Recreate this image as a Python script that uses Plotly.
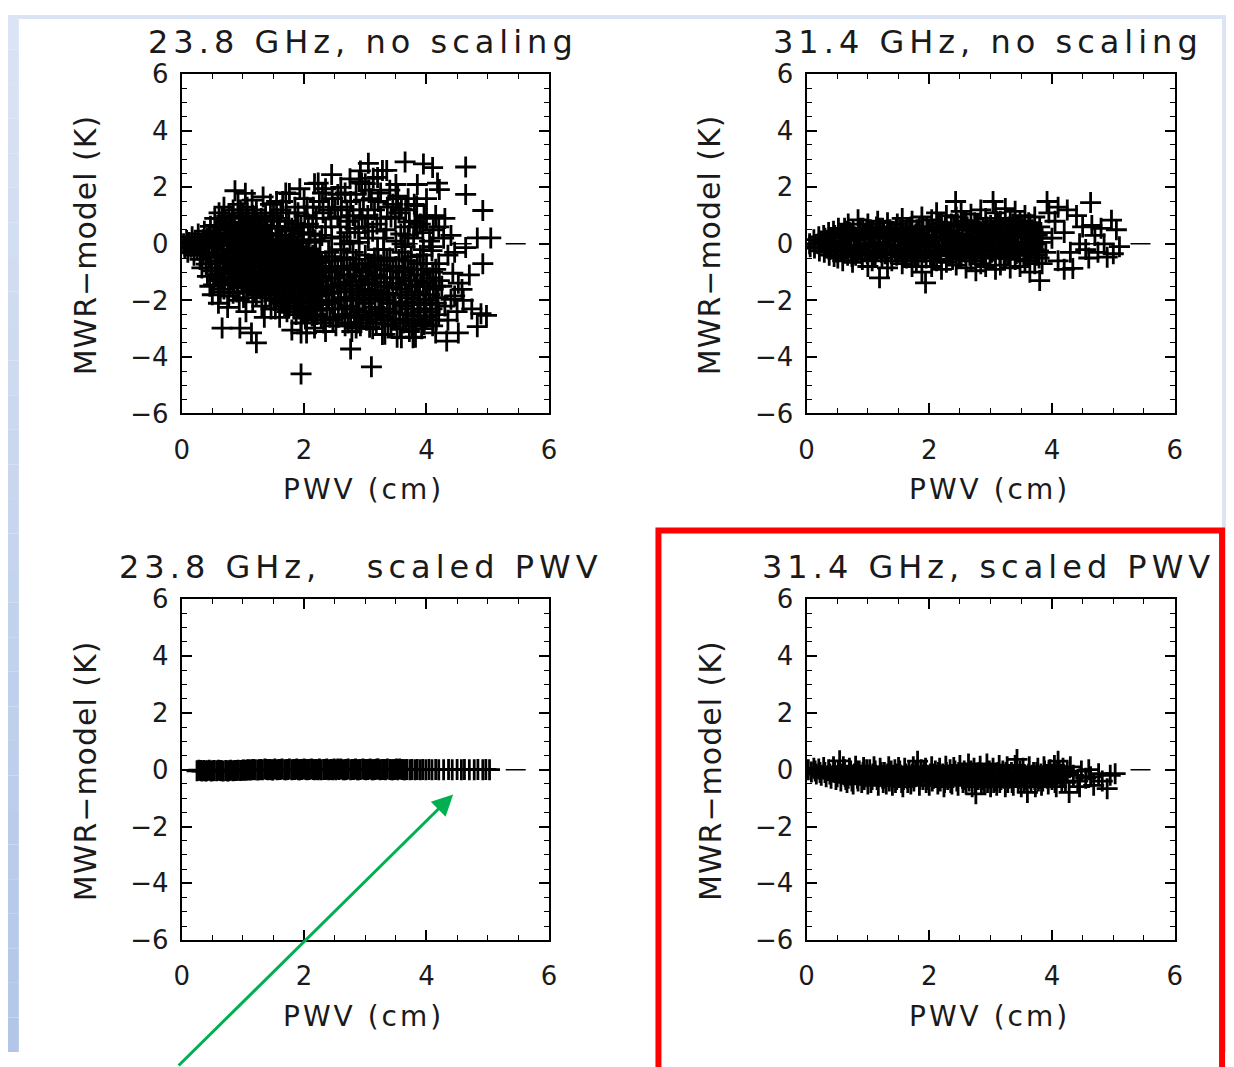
import plotly.graph_objects as go

W, H = 1234, 1067

# ---------------- data ----------------
titles = ["23.8 GHz, no scaling", "31.4 GHz, no scaling",
          "23.8 GHz,\u00a0\u00a0 scaled PWV", "31.4 GHz, scaled PWV"]
x_title = "PWV (cm)"
y_title = "MWR\u2212model (K)"
x_range = [0, 6]
y_range = [-6, 6]
zero_x = [0, 6]
zero_y = [0, 0]

tl_points = [
    (0.03,0.0),(0.05,-0.15),(0.08,0.12),(0.1,-0.3),(0.12,0.05),(0.15,-0.12),(0.17,0.25),(0.2,-0.4),(0.22,0.1),
    (0.25,-0.22),(0.27,0.35),(0.3,-0.55),(0.32,0.02),(0.35,-0.3),(0.37,0.45),(0.4,-0.72),(0.42,0.2),(0.45,-0.45),
    (0.47,0.62),(0.49,-0.95),(0.5,0.0),(0.44,-0.05),(0.38,-0.15),(0.28,-0.05),(0.33,-0.85),(0.42,-1.15),(0.46,-1.5),
    (0.54,0.9),(0.56,0.4),(0.53,-0.1),(0.57,-0.6),(0.55,-1.1),(0.52,-1.45),
    (0.61,1.1),(0.63,0.6),(0.6,0.15),(0.64,-0.35),(0.62,-0.85),(0.6,-1.3),(0.63,-1.7),
    (0.69,1.3),(0.71,0.8),(0.7,0.3),(0.68,-0.2),(0.72,-0.7),(0.7,-1.2),(0.69,-1.6),
    (0.77,1.0),(0.79,0.5),(0.78,0.0),(0.76,-0.45),(0.8,-0.95),(0.78,-1.45),(0.77,-1.85),
    (0.87,1.88),(0.84,1.2),(0.86,0.7),(0.85,0.2),(0.83,-0.3),(0.87,-0.8),(0.85,-1.3),(0.84,-1.75),
    (0.92,1.4),(0.94,0.9),(0.93,0.4),(0.91,-0.1),(0.95,-0.6),(0.93,-1.1),(0.92,-1.55),(0.94,-2.0),
    (1.04,1.79),(1.0,1.1),(1.01,0.6),(0.99,0.1),(1.02,-0.4),(1.0,-0.9),(0.98,-1.4),(1.01,-1.9),
    (1.07,1.3),(1.09,0.8),(1.08,0.3),(1.06,-0.2),(1.1,-0.7),(1.08,-1.2),(1.07,-1.7),
    (1.15,1.55),(1.16,1.0),(1.14,0.5),(1.15,0.0),(1.17,-0.5),(1.13,-1.0),(1.15,-1.5),(1.16,-2.05),
    (1.22,1.2),(1.24,0.7),(1.23,0.2),(1.21,-0.3),(1.25,-0.8),(1.23,-1.3),(1.22,-1.8),
    (1.33,1.66),(1.3,0.9),(1.31,0.4),(1.29,-0.1),(1.32,-0.6),(1.3,-1.1),(1.28,-1.6),(1.31,-2.2),
    (1.37,1.1),(1.39,0.6),(1.38,0.1),(1.36,-0.4),(1.4,-0.9),(1.38,-1.4),(1.37,-1.9),
    (1.45,1.4),(1.46,0.8),(1.44,0.3),(1.45,-0.2),(1.47,-0.7),(1.43,-1.2),(1.45,-1.7),(1.46,-2.3),
    (0.66,-2.98),(0.95,-2.98),(1.14,-3.15),(1.22,-3.5),(0.6,-2.1),(0.75,-2.25),(0.5,-1.8),(1.05,-2.4),(1.35,-2.6),
    (1.55,1.5),(1.56,0.9),(1.54,0.3),(1.7,1.8),(1.71,1.1),(1.69,0.5),(1.76,1.78),(1.85,1.3),(1.86,0.7),(1.84,0.15),
    (2.0,1.6),(2.01,1.0),(1.99,0.4),(2.17,2.13),(2.15,1.3),(2.14,0.6),(2.3,1.8),(2.31,1.1),(2.29,0.3),(1.62,1.2),
    (1.93,1.95),(2.08,0.05),(2.23,2.15),(1.78,0.25),
    (1.55,-0.3),(1.54,-0.8),(1.56,-1.3),(1.55,-1.8),(1.53,-2.3),
    (1.62,-0.1),(1.63,-0.6),(1.61,-1.1),(1.62,-1.6),(1.64,-2.1),(1.6,-2.6),
    (1.7,-0.4),(1.71,-0.9),(1.69,-1.4),(1.7,-1.9),(1.72,-2.4),
    (1.78,-0.2),(1.77,-0.7),(1.79,-1.2),(1.78,-1.7),(1.76,-2.2),
    (1.85,-0.5),(1.86,-1.0),(1.84,-1.5),(1.85,-2.0),(1.87,-2.5),
    (1.93,-0.3),(1.92,-0.8),(1.94,-1.3),(1.93,-1.8),(1.91,-2.3),(1.95,-2.8),
    (2.0,-0.6),(2.01,-1.1),(1.99,-1.6),(2.0,-2.1),(2.02,-2.6),
    (2.08,-0.4),(2.07,-0.9),(2.09,-1.4),(2.08,-1.9),(2.06,-2.4),
    (2.15,-0.7),(2.16,-1.2),(2.14,-1.7),(2.15,-2.2),(2.17,-2.7),
    (2.23,-0.5),(2.22,-1.0),(2.24,-1.5),(2.23,-2.0),(2.21,-2.5),
    (2.3,-0.8),(2.31,-1.3),(2.29,-1.8),(2.3,-2.3),(2.32,-2.8),
    (1.95,-3.15),(2.17,-2.98),(2.04,-3.15),(1.95,-4.6),(1.8,-3.05),(2.35,-3.1),
    (2.45,2.45),(2.46,1.6),(2.44,0.9),(2.45,0.2),(2.6,2.0),(2.61,1.3),(2.59,0.6),
    (2.75,2.3),(2.76,1.5),(2.74,0.8),(2.75,0.1),(2.9,2.2),(2.91,1.2),(2.89,0.4),
    (3.05,2.85),(3.06,1.9),(3.04,1.0),(3.05,0.2),(3.2,2.35),(3.21,1.5),(3.19,0.7),
    (3.35,2.6),(3.36,1.3),(3.34,0.5),(3.5,2.1),(3.51,1.6),(3.49,0.9),(3.5,0.1),
    (3.65,2.9),(3.66,1.2),(3.64,0.6),(3.8,1.4),(3.81,0.8),(3.79,0.2),
    (3.95,2.83),(3.96,1.0),(3.94,0.4),(4.1,2.7),(4.11,0.5),(4.09,-0.1),
    (2.94,2.15),(3.13,2.32),(3.28,2.6),(4.18,2.15),(4.21,1.92),(2.92,2.58),(3.0,2.13),(3.53,1.69),(3.59,1.24),
    (3.72,0.78),(3.84,1.35),(2.67,1.8),(2.83,0.55),(3.12,0.45),(3.42,0.95),(3.58,0.35),(2.55,0.95),(2.97,1.55),
    (2.4,-0.3),(2.41,-0.9),(2.39,-1.5),(2.4,-2.0),(2.42,-2.6),
    (2.5,-0.6),(2.51,-1.2),(2.49,-1.7),(2.5,-2.3),(2.52,-2.9),
    (2.6,-0.2),(2.61,-0.8),(2.59,-1.4),(2.6,-1.9),(2.62,-2.5),
    (2.7,-0.5),(2.71,-1.1),(2.69,-1.6),(2.7,-2.2),(2.72,-2.8),
    (2.8,-0.3),(2.81,-0.9),(2.79,-1.5),(2.8,-2.0),(2.82,-2.6),(2.78,-3.1),
    (2.9,-0.7),(2.91,-1.3),(2.89,-1.8),(2.9,-2.4),(2.92,-2.9),
    (3.0,-0.4),(3.01,-1.0),(2.99,-1.6),(3.0,-2.1),(3.02,-2.7),
    (3.1,-0.8),(3.11,-1.4),(3.09,-1.9),(3.1,-2.5),(3.12,-3.0),
    (3.2,-0.2),(3.21,-0.6),(3.19,-1.1),(3.2,-1.7),(3.22,-2.3),(3.18,-2.8),
    (3.3,-0.9),(3.31,-1.5),(3.29,-2.0),(3.3,-2.6),(3.32,-3.2),
    (3.4,-0.5),(3.41,-1.2),(3.39,-1.8),(3.4,-2.4),(3.42,-2.9),
    (3.5,-0.8),(3.51,-1.4),(3.49,-2.1),(3.5,-2.7),(3.52,-3.3),
    (3.6,-0.3),(3.61,-1.0),(3.59,-1.6),(3.6,-2.2),(3.62,-2.8),
    (3.7,-0.6),(3.71,-1.3),(3.69,-1.9),(3.7,-2.5),(3.72,-3.1),
    (3.8,-0.9),(3.81,-1.5),(3.79,-2.1),(3.8,-2.7),(3.82,-3.3),
    (3.9,-0.4),(3.91,-1.1),(3.89,-1.8),(3.9,-2.4),(3.92,-3.0),
    (4.0,-0.7),(4.01,-1.4),(3.99,-2.0),(4.0,-2.6),
    (4.1,-1.0),(4.11,-1.6),(4.09,-2.3),(4.1,-2.9),
    (4.2,-0.7),(4.21,-1.3),(4.19,-1.9),(4.2,-2.5),
    (2.85,-2.98),(2.76,-3.72),(3.1,-4.35),(3.28,-3.21),(3.59,-3.32),(3.78,-3.32),(3.96,-2.75),(4.15,-3.15),
    (4.3,0.9),(4.35,-0.4),(4.46,-0.3),(4.64,-0.13),(4.83,0.21),(5.05,0.21),(4.92,-0.7),(4.43,-1.04),(4.52,-1.39),
    (4.58,-1.61),(4.09,-0.24),(4.64,2.72),(4.64,1.75),(4.92,1.18),(4.15,1.0),(4.74,-2.3),(4.89,-2.47),(4.98,-2.53),
    (4.83,-2.93),(4.33,-3.44),(4.52,-3.15),(4.4,-1.96),(4.46,-1.84),(4.3,-2.2),(4.5,-2.4),(4.35,-2.7),(4.6,-2.0),
    (4.7,-1.1),(4.4,0.3),(4.25,-1.5),(4.28,0.2),
    (0.52,0.25),(0.55,-0.35),(0.58,-0.85),(0.6,0.65),(0.62,-1.05),(0.65,0.05),(0.67,-0.5),(0.68,-1.4),(0.72,0.55),
    (0.74,-0.05),(0.75,-0.95),(0.8,0.25),(0.81,-0.7),(0.82,-1.2),(0.83,0.95),(0.88,-0.05),(0.89,-0.55),(0.9,0.45),
    (0.9,-1.0),(0.91,-1.5),(0.96,0.15),(0.97,-0.35),(0.97,0.7),(0.98,-0.85),(0.99,-1.2),(1.03,-0.15),(1.04,0.35),
    (1.05,-0.65),(1.05,-1.05),(1.06,-1.5),(1.11,0.55),(1.11,0.05),(1.12,-0.45),(1.12,-0.95),(1.13,-1.35),
    (1.18,0.25),(1.19,-0.25),(1.19,-0.75),(1.2,-1.2),(1.2,-1.65),(1.26,0.45),(1.26,-0.05),(1.27,-0.55),
    (1.27,-1.05),(1.28,-1.4),(1.34,0.15),(1.34,-0.35),(1.35,-0.85),(1.35,-1.25),(1.36,-1.7),(1.41,0.35),
    (1.41,-0.15),(1.42,-0.65),(1.42,-1.05),(1.43,-1.5),(1.49,0.05),(1.49,-0.45),(1.5,-0.95),(1.5,-1.45),
    (1.51,-2.0),(1.58,-0.05),(1.58,-0.55),(1.59,-1.05),(1.59,-1.55),(1.6,-2.0),(1.66,-0.3),(1.66,-0.8),
    (1.67,-1.25),(1.67,-1.75),(1.68,-2.2),(1.74,-0.05),(1.74,-0.55),(1.75,-1.0),(1.75,-1.5),(1.75,-1.95),
    (1.81,-0.35),(1.82,-0.85),(1.82,-1.35),(1.83,-1.85),(1.83,-2.3),(1.89,-0.1),(1.89,-0.6),(1.9,-1.1),
    (1.9,-1.6),(1.9,-2.05),(1.96,-0.45),(1.97,-0.95),(1.97,-1.45),(1.98,-1.95),(1.98,-2.45),(2.04,-0.2),
    (2.04,-0.75),(2.05,-1.25),(2.05,-1.75),(2.06,-2.2),(2.11,-0.55),(2.11,-1.05),(2.12,-1.55),(2.12,-2.05),
    (2.13,-2.55),(2.19,-0.3),(2.19,-0.85),(2.2,-1.35),(2.2,-1.85),(2.2,-2.35),(2.26,-0.65),(2.27,-1.15),
    (2.27,-1.65),(2.27,-2.15),(2.28,-2.6),
    (1.5,1.0),(1.6,0.6),(1.65,1.5),(1.75,0.8),(1.9,1.1),(1.95,0.6),(2.05,1.3),(2.1,0.35),(2.2,0.9),(2.25,1.5),
    (2.35,0.6),(2.4,1.2),(1.58,0.15),(1.82,0.45),(1.98,0.1),(2.18,0.15),
    (2.35,-0.6),(2.36,-1.2),(2.36,-1.75),(2.37,-2.3),(2.45,-0.45),(2.45,-1.0),(2.46,-1.55),(2.46,-2.1),
    (2.47,-2.7),(2.55,-0.9),(2.55,-1.45),(2.56,-2.0),(2.56,-2.6),(2.65,-0.55),(2.65,-1.1),(2.66,-1.7),
    (2.66,-2.3),(2.67,-2.9),(2.75,-0.8),(2.75,-1.35),(2.76,-1.9),(2.76,-2.5),(2.85,-0.55),(2.85,-1.15),
    (2.86,-1.7),(2.86,-2.3),(2.87,-2.8),(2.95,-0.9),(2.95,-1.45),(2.96,-2.0),(2.96,-2.6),(3.05,-0.7),
    (3.05,-1.25),(3.06,-1.8),(3.06,-2.4),(3.07,-2.95),(3.15,-0.5),(3.15,-1.15),(3.16,-1.65),(3.16,-2.25),
    (3.17,-2.7),(3.25,-0.75),(3.25,-1.35),(3.26,-1.9),(3.26,-2.5),(3.35,-0.6),(3.35,-1.2),(3.36,-1.75),
    (3.36,-2.3),(3.37,-2.85),(3.45,-0.95),(3.45,-1.55),(3.46,-2.1),(3.46,-2.7),(3.55,-0.55),(3.55,-1.2),
    (3.56,-1.8),(3.56,-2.45),(3.57,-3.0),(3.65,-0.85),(3.65,-1.45),(3.66,-2.05),(3.66,-2.65),(3.75,-0.45),
    (3.75,-1.1),(3.76,-1.7),(3.76,-2.3),(3.77,-2.9),(3.85,-0.7),(3.85,-1.3),(3.86,-1.95),(3.86,-2.55),
    (3.95,-0.9),(3.95,-1.5),(3.96,-2.15),(3.96,-2.85),(4.05,-1.2),(4.05,-1.8),(4.06,-2.4),(4.15,-0.9),
    (4.15,-1.5),(4.16,-2.1),(4.16,-2.7),
    (2.5,1.3),(2.7,0.4),(2.8,1.0),(3.0,0.6),(3.15,1.2),(3.3,0.2),(3.45,1.4),(3.6,0.0),(3.7,1.6),(3.9,0.7),
    (4.0,1.6),(2.65,0.0),(3.25,1.8),(3.85,2.1),(2.85,1.75),
    (2.55,1.75),(2.7,1.2),(2.95,0.9),(3.1,1.6),(3.25,0.9),(3.4,1.9),(3.55,1.1),(3.7,0.3),(3.85,0.6),(4.0,0.9),
    (4.2,0.6),(4.05,0.1),(3.3,-0.2),(3.65,-0.1),(3.95,-0.2),(2.35,1.95),(2.6,0.25),(2.9,0.05),
    (0.35,0.15),(0.4,-0.35),(0.45,0.3),(0.48,-0.7),(0.55,0.65),(0.58,0.1),(0.6,-0.45),(0.65,-1.2),(0.66,0.9),
    (0.7,-0.95),(0.74,0.2),(0.76,-1.3),(0.8,0.75),(0.82,-0.2),(0.86,-1.05),(0.88,0.4),(0.9,-1.7),(0.94,-0.35),
    (0.96,1.2),(1.0,-0.15),(1.02,-1.15),(1.05,0.95),(1.09,-0.45),(1.1,-1.4),(1.13,0.25),(1.17,-0.8),(1.2,0.95),
    (1.22,-0.05),(1.25,-1.5),(1.29,0.65),(1.31,-0.35),(1.33,-1.3),(1.36,0.85),(1.39,-0.8),(1.42,0.05),
    (1.44,-1.8),(1.47,0.55),(1.5,-0.25),(1.53,-1.15),(1.57,0.6),(1.6,-0.8),(1.64,0.3),(1.66,-1.45),(1.7,0.05),
    (1.73,-0.8),(1.77,-1.95),(1.8,0.55),(1.84,-0.75),(1.87,-1.25),(1.9,0.35),(1.93,-2.05),(1.96,-0.15),
    (2.0,-0.85),(2.03,-1.45),(2.07,0.7),(2.1,-2.3),(2.14,-0.4),(2.18,-1.1),(2.22,-1.75),(2.26,0.1),
]

tr_points = [
    (0.05,0.0),(0.06,-0.1),(0.12,0.15),(0.13,-0.15),(0.2,0.25),(0.21,-0.25),(0.19,0.0),
    (0.28,0.3),(0.29,-0.3),(0.27,0.05),(0.36,0.4),(0.37,-0.4),(0.35,0.0),(0.44,0.45),(0.45,-0.45),(0.43,0.1),
    (0.52,0.55),(0.53,0.05),(0.51,-0.5),(0.6,0.35),(0.61,-0.2),(0.59,-0.6),(0.68,0.7),(0.69,0.15),(0.67,-0.4),
    (0.76,0.5),(0.77,-0.05),(0.75,-0.65),(0.84,0.85),(0.85,0.25),(0.83,-0.3),(0.92,0.55),(0.93,0.0),(0.91,-0.55),
    (1.0,0.7),(1.01,0.2),(0.99,-0.35),(1.0,-0.8),(1.08,0.45),(1.09,-0.1),(1.07,-0.6),
    (1.16,0.8),(1.17,0.3),(1.15,-0.25),(1.19,-1.2),(1.24,0.55),(1.25,0.0),(1.23,-0.5),
    (1.32,0.75),(1.33,0.2),(1.31,-0.35),(1.32,-0.85),(1.4,0.45),(1.41,-0.1),(1.39,-0.6),
    (1.48,0.7),(1.49,0.15),(1.47,-0.4),(1.56,0.9),(1.57,0.35),(1.55,-0.2),(1.56,-0.7),
    (1.64,0.55),(1.65,0.0),(1.63,-0.5),(1.72,0.8),(1.73,0.25),(1.71,-0.3),(1.72,-0.8),
    (1.8,0.5),(1.81,-0.05),(1.79,-0.6),(1.88,0.95),(1.89,0.3),(1.87,-0.25),(1.88,-1.0),
    (1.96,0.6),(1.97,0.05),(1.95,-0.5),(1.94,-1.38),(2.04,0.85),(2.05,0.25),(2.03,-0.3),(2.04,-0.8),
    (2.12,1.1),(2.13,0.5),(2.11,-0.05),(2.12,-0.6),(2.2,0.75),(2.21,0.2),(2.19,-0.35),(2.2,-0.9),
    (2.28,1.0),(2.29,0.45),(2.27,-0.1),(2.28,-0.65),(2.43,1.5),(2.36,0.7),(2.37,0.15),(2.35,-0.4),
    (2.44,0.95),(2.45,0.35),(2.43,-0.2),(2.44,-0.75),(2.52,1.15),(2.53,0.6),(2.51,0.05),(2.52,-0.5),
    (2.6,0.8),(2.61,0.25),(2.59,-0.3),(2.6,-0.85),(2.68,1.05),(2.69,0.5),(2.67,-0.05),(2.68,-0.6),
    (2.76,0.7),(2.77,0.15),(2.75,-0.4),(2.76,-0.95),(2.84,1.2),(2.85,0.4),(2.83,-0.15),(2.84,-0.7),
    (2.92,0.9),(2.93,0.3),(2.91,-0.25),(2.92,-0.8),(3.04,1.5),(3.0,0.65),(3.01,0.1),(2.99,-0.45),
    (3.08,1.1),(3.09,0.45),(3.07,-0.1),(3.08,-0.9),(3.16,0.8),(3.17,0.2),(3.15,-0.35),(3.16,-0.75),
    (3.24,1.25),(3.25,0.55),(3.23,0.0),(3.24,-0.5),(3.32,0.9),(3.33,0.3),(3.31,-0.25),(3.32,-0.85),
    (3.4,1.15),(3.41,0.6),(3.39,0.05),(3.4,-0.55),(3.48,0.8),(3.49,0.25),(3.47,-0.3),(3.48,-0.8),
    (3.56,1.0),(3.57,0.45),(3.55,-0.1),(3.56,-0.6),(3.64,0.7),(3.65,0.15),(3.63,-0.4),(3.64,-1.0),
    (3.72,0.95),(3.73,0.35),(3.71,-0.2),(3.72,-0.7),(3.8,0.6),(3.81,0.05),(3.79,-0.5),(3.8,-1.3),
    (3.92,1.5),(3.95,1.1),(4.05,0.8),(4.0,0.2),(3.9,-0.3),(4.1,-0.6),(4.2,0.4),(4.3,-0.3),(4.34,-0.87),
    (4.45,0.0),(4.5,0.6),(4.63,1.46),(4.6,-0.5),(4.7,0.3),(4.75,-0.3),(4.8,0.55),(4.9,-0.47),(4.97,0.84),
    (5.05,0.5),(5.0,-0.35),(4.2,-0.9),(4.4,1.0),(4.55,-0.2),(4.85,0.0),(5.1,-0.1),(4.65,0.65),(4.25,1.2),(4.1,1.3),
    (0.24,0.1),(0.32,-0.15),(0.4,0.2),(0.48,-0.2),(0.56,0.3),(0.56,-0.25),(0.64,0.45),(0.64,-0.05),(0.72,0.35),
    (0.72,-0.2),(0.8,0.15),(0.8,-0.4),(0.88,0.55),(0.88,-0.1),(0.96,0.3),(0.96,-0.25),(1.04,0.5),(1.04,-0.05),
    (1.12,0.2),(1.12,-0.4),(1.2,0.55),(1.2,-0.1),(1.28,0.25),(1.28,-0.35),(1.36,0.5),(1.36,-0.05),(1.44,0.3),
    (1.44,-0.25),(1.52,0.5),(1.52,-0.1),(1.6,0.2),(1.6,-0.35),(1.68,0.5),(1.68,-0.05),(1.76,0.1),(1.76,-0.45),
    (1.84,0.55),(1.84,0.0),(1.92,0.25),(1.92,-0.3),(2.0,0.5),(2.0,-0.1),(2.08,0.2),(2.08,-0.4),(2.16,0.7),
    (2.16,-0.25),(2.24,0.45),(2.24,-0.1),(2.32,0.25),(2.32,-0.4),(2.4,0.6),(2.4,-0.05),(2.48,0.3),(2.48,-0.45),
    (2.56,0.8),(2.56,-0.2),(2.64,0.5),(2.64,-0.1),(2.72,0.35),(2.72,-0.3),(2.8,0.7),(2.8,-0.05),(2.88,0.55),
    (2.88,-0.4),(2.96,0.2),(2.96,-0.15),(3.04,0.45),(3.04,-0.25),(3.12,0.7),(3.12,0.0),(3.2,0.5),(3.2,-0.2),
    (3.28,0.3),(3.28,-0.4),(3.36,0.7),(3.36,0.0),(3.44,0.4),(3.44,-0.2),(3.52,0.6),(3.52,0.0),(3.6,0.35),
    (3.6,-0.3),(3.68,0.5),(3.68,-0.05),(3.76,0.3),(3.76,-0.4),(3.84,0.2),(3.84,-0.7),
    (0.3,0.2),(0.38,-0.2),(0.46,0.3),(0.5,-0.3),(0.58,0.1),(0.62,0.55),(0.66,-0.25),(0.7,0.4),(0.74,-0.45),
    (0.78,0.25),(0.82,-0.15),(0.86,0.4),(0.9,-0.35),(0.94,0.2),(0.98,0.5),(1.02,-0.2),(1.06,0.25),(1.1,-0.45),
    (1.14,0.6),(1.18,0.05),(1.22,-0.3),(1.26,0.35),(1.3,-0.15),(1.34,0.45),(1.38,-0.35),(1.42,0.1),(1.46,0.55),
    (1.5,-0.3),(1.54,0.25),(1.58,-0.45),(1.62,0.4),(1.66,-0.2),(1.7,0.6),(1.74,-0.1),(1.78,0.35),(1.82,-0.4),
    (1.86,0.15),(1.9,0.6),(1.94,-0.2),(1.98,0.3),(2.02,-0.45),(2.06,0.5),(2.1,0.1),(2.14,-0.3),(2.18,0.45),
    (2.22,-0.05),(2.26,0.65),(2.3,-0.25),(2.34,0.35),(2.38,-0.55),(2.42,0.15),(2.46,0.7),(2.5,-0.3),(2.54,0.3),
    (2.58,-0.1),(2.62,0.6),(2.66,-0.4),(2.7,0.2),(2.74,0.75),(2.78,-0.2),(2.82,0.45),(2.86,0.05),(2.9,-0.5),
    (2.94,0.6),(2.98,0.1),(3.02,-0.3),(3.06,0.3),(3.1,0.8),(3.14,-0.2),(3.18,0.4),(3.22,-0.45),(3.26,0.15),
    (3.3,0.6),(3.34,-0.1),(3.38,0.35),(3.42,-0.35),(3.46,0.55),(3.5,0.05),(3.54,-0.4),(3.58,0.25),(3.62,0.75),
    (3.66,-0.2),(3.7,0.4),(3.74,0.0),(3.78,-0.25),(3.82,0.4),
]

bl_points = [
    (0.25,-0.04),(0.28,-0.02),(0.33,-0.05),(0.36,-0.03),(0.41,-0.04),(0.45,-0.02),(0.48,-0.05),(0.53,-0.03),
    (0.57,-0.04),(0.6,-0.02),(0.65,-0.04),(0.68,-0.05),(0.72,-0.03),(0.77,-0.04),(0.8,-0.02),(0.84,-0.04),
    (0.89,-0.03),(0.92,-0.02),(0.96,-0.03),(1.01,-0.01),(1.04,-0.02),(1.09,0.0),(1.12,-0.01),(1.17,0.01),
    (1.2,0.0),(1.24,-0.01),(1.29,0.01),(1.32,0.0),(1.36,0.02),(1.41,0.0),(1.44,0.01),(1.49,-0.01),(1.52,0.02),
    (1.56,0.0),(1.61,0.01),(1.64,0.02),(1.68,0.0),(1.73,0.01),(1.76,0.02),(1.8,0.0),(1.85,0.01),(1.88,0.02),
    (1.93,0.0),(1.96,0.01),(2.0,0.02),(2.05,0.0),(2.08,0.01),(2.12,0.02),(2.17,0.0),(2.2,0.01),(2.25,0.02),
    (2.28,0.0),(2.32,0.01),(2.37,0.02),(2.4,0.0),(2.44,0.01),(2.49,0.02),(2.52,0.0),(2.57,0.01),(2.6,0.02),
    (2.64,0.0),(2.69,0.01),(2.72,0.02),(2.76,0.0),(2.81,0.01),(2.84,0.02),(2.89,0.0),(2.92,0.01),(2.96,0.02),
    (3.01,0.0),(3.04,0.01),(3.08,0.02),(3.13,0.0),(3.16,0.01),(3.21,0.02),(3.24,0.0),(3.28,0.01),(3.33,0.0),
    (3.36,0.02),(3.4,0.01),(3.45,0.0),(3.48,0.01),(3.53,0.0),(3.56,0.02),(3.6,0.01),(3.65,0.0),(3.68,0.01),
    (3.73,0.0),(3.76,0.01),(3.81,0.0),(3.85,0.01),(3.9,0.0),(3.94,0.01),(3.99,0.0),(4.04,0.01),(4.09,0.0),
    (4.15,0.01),(4.2,0.0),(4.28,0.0),(4.36,0.01),(4.42,0.0),(4.5,0.01),(4.57,0.0),(4.62,0.01),(4.7,0.0),
    (4.78,0.0),(4.84,0.01),(4.92,0.0),(4.97,0.01),(5.03,0.0),
    (0.31,-0.03),(0.39,-0.05),(0.51,-0.04),(0.63,-0.03),(0.75,-0.05),(0.87,-0.03),(0.99,-0.02),(1.07,-0.01),
    (1.15,0.0),(1.27,0.0),(1.39,0.01),(1.47,0.0),(1.59,0.01),(1.71,0.0),(1.83,0.01),(1.91,0.0),(2.03,0.01),
    (2.15,0.01),(2.23,0.0),(2.35,0.01),(2.47,0.0),(2.55,0.02),(2.67,0.0),(2.79,0.01),(2.87,0.0),(2.99,0.01),
    (3.11,0.0),(3.19,0.02),(3.31,0.01),(3.43,0.0),(3.51,0.02),(3.63,0.0),
]

br_points = [
    (0.03,0.0),(0.08,-0.08),(0.12,0.05),(0.16,-0.15),(0.2,0.02),(0.24,-0.2),(0.28,0.08),(0.32,-0.25),(0.36,0.0),
    (0.4,-0.3),(0.44,0.1),(0.48,-0.35),(0.52,-0.05),(0.54,0.31),(0.56,-0.4),(0.6,0.1),(0.63,-0.25),(0.66,-0.45),
    (0.7,0.05),(0.73,-0.2),(0.76,-0.5),(0.8,0.12),(0.83,-0.3),(0.86,-0.05),(0.9,-0.45),(0.93,0.08),(0.96,-0.25),
    (1.0,-0.5),(1.03,0.0),(1.07,-0.35),(1.1,0.1),(1.13,-0.2),(1.17,-0.55),(1.2,0.05),(1.24,-0.3),(1.27,-0.1),
    (1.3,-0.5),(1.34,0.1),(1.37,-0.25),(1.4,-0.55),(1.44,0.0),(1.47,-0.35),(1.5,0.08),(1.54,-0.2),(1.57,-0.6),
    (1.6,0.05),(1.64,-0.3),(1.67,-0.1),(1.7,-0.5),(1.74,0.1),(1.77,-0.25),(1.81,0.3),(1.84,-0.55),(1.87,0.0),
    (1.9,-0.35),(1.94,0.05),(1.97,-0.2),(2.0,-0.55),(2.04,0.1),(2.07,-0.3),(2.1,-0.05),(2.14,-0.5),(2.17,0.05),
    (2.2,-0.25),(2.24,-0.6),(2.27,0.12),(2.3,-0.35),(2.34,0.0),(2.37,-0.5),(2.4,0.08),(2.44,-0.2),(2.47,-0.55),
    (2.5,0.15),(2.54,-0.3),(2.57,-0.05),(2.6,-0.5),(2.64,0.2),(2.67,-0.25),(2.7,-0.6),(2.73,0.05),(2.76,-0.85),
    (2.8,-0.35),(2.83,0.12),(2.87,-0.15),(2.9,-0.5),(2.94,0.2),(2.97,-0.3),(3.0,-0.6),(3.04,0.05),(3.07,-0.2),
    (3.1,-0.55),(3.14,0.15),(3.17,-0.35),(3.2,-0.05),(3.24,-0.6),(3.27,0.1),(3.3,-0.3),(3.34,-0.1),(3.37,-0.55),
    (3.4,0.15),(3.43,0.36),(3.46,-0.3),(3.5,-0.6),(3.53,0.05),(3.56,-0.2),(3.6,-0.8),(3.63,0.1),(3.66,-0.45),
    (3.7,-0.1),(3.73,-0.6),(3.77,0.05),(3.8,-0.3),(3.83,-0.55),(3.87,0.1),(3.9,-0.2),(3.94,-0.5),(3.97,0.0),
    (4.0,-0.35),(4.04,0.15),(4.07,-0.6),(4.1,0.3),(4.14,-0.25),(4.18,0.05),(4.22,-0.45),(4.28,-0.8),(4.3,0.1),
    (0.58,-0.15),(0.68,-0.3),(0.78,-0.15),(0.88,-0.2),(0.98,0.0),(1.08,-0.15),(1.18,-0.25),(1.28,-0.3),
    (1.38,-0.05),(1.48,-0.15),(1.58,-0.35),(1.68,-0.25),(1.78,-0.05),(1.88,-0.2),(1.98,-0.35),(2.08,-0.15),
    (2.18,-0.4),(2.28,-0.1),(2.38,-0.25),(2.48,-0.1),(2.58,-0.35),(2.68,-0.05),(2.78,-0.2),(2.88,-0.35),
    (2.98,-0.05),(3.08,-0.4),(3.18,-0.15),(3.28,-0.45),(3.38,-0.2),(3.48,-0.05),(3.58,-0.35),(3.68,-0.2),
    (3.78,-0.4),(3.88,-0.05),(3.98,-0.2),(4.08,-0.1),
    (4.35,-0.2),(4.42,-0.4),(4.48,-0.05),(4.55,-0.3),(4.63,-0.25),(4.68,-0.55),(4.76,-0.14),(4.82,-0.4),
    (4.9,-0.67),(4.95,-0.2),(5.03,-0.14),(4.6,0.0),(4.45,-0.6),
    (0.14,-0.05),(0.22,-0.1),(0.3,-0.1),(0.38,-0.15),(0.46,-0.1),(0.5,-0.25),(0.62,0.0),(0.64,-0.35),(0.72,-0.05),
    (0.74,-0.4),(0.82,-0.05),(0.84,-0.4),(0.92,-0.1),(0.94,-0.35),(1.02,-0.2),(1.05,-0.45),(1.12,-0.05),
    (1.15,-0.35),(1.22,-0.1),(1.25,-0.45),(1.32,-0.15),(1.35,-0.4),(1.42,-0.2),(1.45,-0.45),(1.52,-0.05),
    (1.55,-0.45),(1.62,-0.15),(1.65,-0.45),(1.72,-0.15),(1.75,-0.4),(1.82,-0.1),(1.85,-0.35),(1.92,-0.1),
    (1.95,-0.45),(2.02,-0.15),(2.05,-0.4),(2.12,-0.25),(2.15,-0.1),(2.22,-0.15),(2.25,-0.45),(2.32,-0.2),
    (2.35,-0.45),(2.42,-0.05),(2.45,-0.4),(2.52,-0.15),(2.55,-0.45),(2.62,-0.2),(2.65,-0.4),(2.72,-0.15),
    (2.75,-0.45),(2.82,-0.1),(2.85,-0.45),(2.92,-0.15),(2.95,-0.45),(3.02,-0.25),(3.05,-0.45),(3.12,-0.1),
    (3.15,-0.45),(3.22,-0.3),(3.25,-0.1),(3.32,-0.2),(3.35,-0.45),(3.42,-0.1),(3.45,-0.45),(3.52,-0.25),
    (3.55,-0.45),(3.62,-0.15),(3.65,-0.3),(3.72,-0.35),(3.75,-0.1),(3.82,-0.15),(3.85,-0.4),(3.92,-0.3),
    (3.95,-0.1),(4.02,-0.15),(4.05,-0.45),(4.12,-0.05),(4.16,-0.4),(4.2,-0.2),(4.25,-0.1),
]

panel_points = [tl_points, tr_points, bl_points, br_points]

# ---------------- layout geometry (pixels) ----------------
boxes = [(176, 548, 61, 410), (809, 1182, 61, 410), (176, 548, 601, 952), (809, 1182, 601, 952)]
title_pos = [(360, 28), (993, 28), (358, 568), (993, 568)]
xt_pos = [(360, 488), (994, 488), (360, 1030), (994, 1030)]
yt_pos = [(78, 236), (711, 236), (78, 777), (711, 777)]

FONT = "DejaVu Sans"
INK = "#1a1a1a"

def px(x):
    return x / W

def py(y):
    return 1 - y / H

fig = go.Figure()
layout = dict(width=W, height=H, margin=dict(l=0, r=0, t=0, b=0),
              paper_bgcolor="white", plot_bgcolor="white", showlegend=False)

annotations = []
for i, (pts, box) in enumerate(zip(panel_points, boxes)):
    n = "" if i == 0 else str(i + 1)
    xa, ya = "x" + n, "y" + n
    x0, x1, y0, y1 = box
    common = dict(showline=True, linecolor="black", linewidth=2, mirror="allticks",
                  ticks="inside", ticklen=10, tickwidth=1.5, tickcolor="black",
                  showgrid=False, zeroline=False, fixedrange=True,
                  tickfont=dict(family=FONT, size=26, color=INK),
                  minor=dict(ticks="inside", ticklen=5, tickwidth=1.2, tickcolor="black",
                             dtick=0.5, showgrid=False))
    layout["xaxis" + n] = dict(domain=[px(x0), px(x1)], anchor=ya, range=x_range,
                               tick0=0, dtick=2, ticklabelstandoff=12, **common)
    layout["yaxis" + n] = dict(domain=[py(y1), py(y0)], anchor=xa, range=y_range,
                               tick0=0, dtick=2, ticklabelstandoff=6, **common)
    fig.add_trace(go.Scatter(x=zero_x, y=zero_y, mode="lines", xaxis=xa, yaxis=ya,
                             line=dict(color="black", width=1.5, dash="20px,34px"),
                             hoverinfo="skip"))
    fig.add_trace(go.Scatter(x=[p[0] for p in pts], y=[p[1] for p in pts], mode="markers",
                             xaxis=xa, yaxis=ya,
                             marker=dict(symbol="cross-thin", size=15, color="black",
                                         line=dict(color="black", width=2.8))))
    tx, ty = title_pos[i]
    annotations.append(dict(x=px(tx), y=py(ty), xref="paper", yref="paper", showarrow=False,
                            xanchor="center", yanchor="middle",
                            text='<span style="letter-spacing:5px">' + titles[i] + '</span>',
                            font=dict(family=FONT, size=32, color=INK)))
    tx, ty = xt_pos[i]
    annotations.append(dict(x=px(tx), y=py(ty), xref="paper", yref="paper", showarrow=False,
                            xanchor="center", yanchor="middle",
                            text='<span style="letter-spacing:3px">' + x_title + '</span>',
                            font=dict(family=FONT, size=28, color=INK)))
    tx, ty = yt_pos[i]
    annotations.append(dict(x=px(tx), y=py(ty), xref="paper", yref="paper", showarrow=False,
                            xanchor="center", yanchor="middle", textangle=-90,
                            text='<span style="letter-spacing:1px">' + y_title + '</span>',
                            font=dict(family=FONT, size=30, color=INK)))

# green arrow
annotations.append(dict(x=px(451), y=py(802), xref="paper", yref="paper", text="",
                        showarrow=True, ax=-276, ay=273, arrowcolor="#00B050",
                        arrowwidth=3, arrowhead=2, arrowsize=1.4))

shapes = []
# light blue slide background strips
top_c = (219, 228, 244)
bot_c = (178, 198, 231)
nb = 30
for k in range(nb):
    t = (k + 0.5) / nb
    c = tuple(int(round(top_c[j] + (bot_c[j] - top_c[j]) * t)) for j in range(3))
    shapes.append(dict(type="rect", xref="paper", yref="paper", x0=0, x1=px(11),
                       y0=py(H * (k + 1) / nb), y1=py(H * k / nb),
                       fillcolor="rgb(%d,%d,%d)" % c, line=dict(width=0), layer="below"))
shapes.append(dict(type="rect", xref="paper", yref="paper", x0=0, x1=1, y0=py(4), y1=1,
                   fillcolor="rgb(219,228,244)", line=dict(width=0), layer="below"))
shapes.append(dict(type="rect", xref="paper", yref="paper", x0=px(1230), x1=1, y0=0, y1=1,
                   fillcolor="rgb(221,228,243)", line=dict(width=0), layer="below"))
# red highlight box
shapes.append(dict(type="rect", xref="paper", yref="paper", x0=px(659), x1=px(1230),
                   y0=-0.05, y1=py(530.5), line=dict(color="#FF0000", width=6),
                   fillcolor="rgba(0,0,0,0)", layer="above"))

layout["annotations"] = annotations
layout["shapes"] = shapes
fig.update_layout(**layout)
fig.write_html("out.html")
